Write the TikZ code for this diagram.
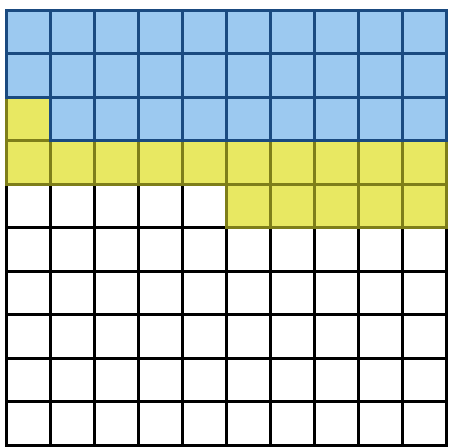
\documentclass[tikz,border=0pt]{standalone}
\definecolor{cellblue}{HTML}{9CC9F0}
\definecolor{lineblue}{HTML}{1A4A80}
\definecolor{cellyellow}{HTML}{E8E862}
\definecolor{lineyellow}{HTML}{7E7E1A}
\tikzset{
  wcell/.style={draw=black,fill=white,line width=3pt},
  ycell/.style={draw=lineyellow,fill=cellyellow,line width=3pt},
  bcell/.style={draw=lineblue,fill=cellblue,line width=3pt}
}
\newcommand{\gridcell}[3]{\draw[#3] ({6.5+44*#1},{10+43.5*#2}) rectangle ++(44,43.5);}
\begin{document}
\begin{tikzpicture}[x=1pt,y=-1pt]
\useasboundingbox[fill=white] (0,0) rectangle (453,447);
% white cells
\foreach \j in {5,...,9} {\foreach \i in {0,...,9} {\gridcell{\i}{\j}{wcell}}}
\foreach \i in {0,...,4} {\gridcell{\i}{4}{wcell}}
% yellow cells
\foreach \i in {0,...,9} {\gridcell{\i}{3}{ycell}}
\foreach \i in {5,...,9} {\gridcell{\i}{4}{ycell}}
\gridcell{0}{2}{ycell}
% blue cells
\foreach \j in {0,1} {\foreach \i in {0,...,9} {\gridcell{\i}{\j}{bcell}}}
\foreach \i in {1,...,9} {\gridcell{\i}{2}{bcell}}
\end{tikzpicture}
\end{document}
